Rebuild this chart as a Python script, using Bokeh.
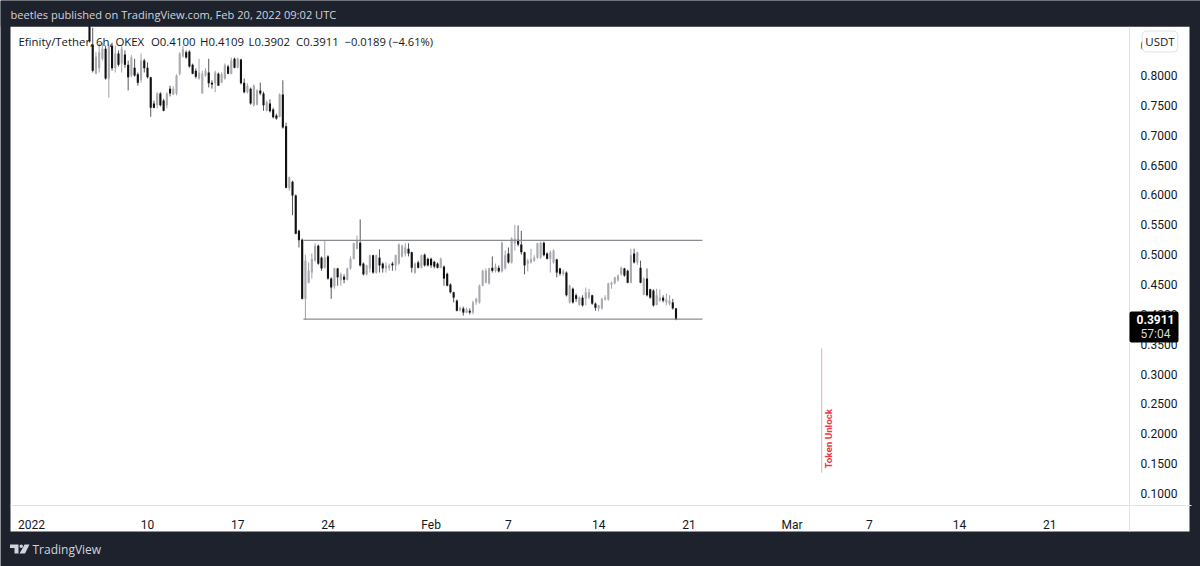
import numpy as np
from bokeh.embed import file_html
from bokeh.models import (BoxAnnotation, ColumnDataSource, FixedTicker, Label,
                          LinearAxis, PolyAnnotation, Range1d)
from bokeh.plotting import figure
from bokeh.resources import INLINE

# x is days since 1 Jan 2022; one bar every 6 hours, first bar on 5 Jan 12:00
first_bar_day = 4.5
bar_step_days = 0.25

opens = [.900,.852,.803,.812,.828,.845,.795,.850,.812,.837,.820,.835,.818,.800,.813,.802,.792,.825,.813,.797,.753,.750,.770,.758,.750,.778,.768,.770,.803,.832,.839,.840,.818,.808,.795,
 .770,.800,.805,.788,.787,.803,.788,.795,.815,.803,.828,.813,.827,.788,.772,.778,.750,.751,.775,.770,.741,.753,.743,.733,.731,.768,.715,.611,.622,.599,.540,.525,
 .426,.453,.470,.490,.515,.495,.478,.497,.460,.447,.477,.457,.463,.458,.477,.493,.510,.520,.485,.467,.477,.499,.470,.495,.485,.477,.478,.485,.482,.485,.497,.502,.510,.504,.470,.487,.478,.500,.493,.493,.488,.485,.478,.480,.468,.450,.437,
 .423,.406,.410,.403,.406,.403,.420,.420,.448,.453,.452,.478,.473,.478,.472,.477,.502,.487,.519,.525,.517,.504,.485,.487,.490,.495,.495,.520,.502,.493,.487,.492,.477,.468,.470,.420,.443,.432,.416,.428,.426,.428,.432,.418,.410,.410,.425,.425,.450,.452,.457,.467,.477,.473,.453,.502,.487,.478,.433,.460,.442,.440,.416,.423,.428,.420,.418,.420,.4100]
highs = [.920,.880,.839,.854,.855,.850,.852,.855,.850,.842,.849,.842,.825,.834,.828,.805,.837,.828,.822,.798,.758,.772,.772,.761,.772,.783,.782,.802,.839,.850,.842,.842,.820,.812,.828,
 .808,.812,.828,.792,.808,.805,.805,.820,.818,.830,.830,.830,.828,.795,.787,.780,.785,.777,.788,.773,.758,.760,.746,.736,.770,.792,.721,.631,.624,.601,.542,.527,
 .500,.487,.502,.519,.517,.497,.524,.499,.462,.478,.478,.470,.467,.478,.497,.520,.532,.559,.487,.483,.500,.500,.500,.509,.487,.487,.485,.488,.500,.519,.517,.519,.519,.505,.487,.490,.500,.502,.495,.495,.490,.487,.495,.482,.470,.452,.438,
 .425,.413,.413,.411,.410,.423,.428,.450,.475,.477,.478,.497,.485,.482,.522,.507,.512,.529,.550,.549,.540,.505,.493,.510,.499,.520,.522,.522,.504,.507,.509,.493,.478,.475,.472,.450,.445,.435,.430,.432,.445,.443,.433,.420,.416,.428,.432,.453,.455,.463,.467,.480,.478,.475,.510,.510,.505,.490,.462,.477,.443,.442,.443,.442,.432,.435,.432,.426,.4109]
lows = [.855,.805,.802,.805,.825,.793,.763,.808,.805,.815,.805,.813,.775,.797,.798,.783,.788,.805,.795,.731,.745,.745,.748,.740,.745,.765,.767,.767,.800,.830,.828,.813,.802,.795,.793,
 .770,.798,.780,.778,.772,.802,.787,.793,.802,.802,.812,.812,.785,.770,.770,.751,.748,.750,.767,.741,.740,.738,.728,.726,.730,.711,.611,.607,.566,.534,.512,.425,
 .391,.452,.460,.488,.483,.473,.477,.458,.426,.443,.448,.448,.452,.457,.475,.492,.509,.480,.465,.465,.470,.468,.468,.470,.470,.470,.473,.473,.473,.483,.495,.497,.497,.470,.468,.477,.477,.480,.480,.478,.477,.477,.477,.448,.447,.435,.420,
 .405,.405,.398,.402,.400,.400,.416,.418,.447,.452,.450,.470,.470,.470,.470,.475,.485,.485,.507,.514,.500,.467,.472,.485,.488,.493,.493,.497,.492,.470,.485,.462,.465,.465,.430,.418,.418,.421,.415,.413,.415,.426,.416,.406,.405,.408,.423,.423,.443,.450,.455,.465,.463,.452,.452,.485,.483,.452,.432,.430,.426,.413,.415,.421,.420,.415,.415,.408,.3902]
closes = [.857,.808,.832,.839,.845,.795,.849,.812,.837,.818,.845,.818,.797,.830,.800,.788,.825,.812,.797,.746,.746,.770,.750,.741,.770,.770,.778,.800,.837,.844,.830,.815,.803,.798,.805,
 .803,.808,.787,.785,.805,.783,.802,.817,.803,.825,.813,.828,.787,.772,.783,.753,.783,.775,.770,.750,.755,.740,.730,.728,.768,.713,.612,.629,.599,.535,.524,.426,
 .490,.473,.493,.515,.485,.477,.495,.460,.445,.477,.462,.467,.458,.477,.493,.519,.524,.482,.467,.482,.499,.470,.499,.482,.477,.482,.482,.482,.499,.517,.515,.512,.502,.478,.485,.478,.499,.482,.482,.482,.480,.478,.493,.460,.448,.437,.428,
 .406,.411,.403,.408,.403,.420,.426,.448,.473,.473,.477,.473,.480,.472,.520,.499,.487,.527,.527,.517,.504,.482,.490,.493,.495,.519,.520,.499,.493,.504,.507,.470,.468,.472,.432,.448,.420,.426,.428,.415,.437,.437,.418,.411,.415,.426,.428,.452,.453,.462,.465,.478,.465,.453,.499,.487,.504,.453,.460,.432,.428,.415,.432,.428,.423,.425,.423,.410,.3911]

price_ticks = [.10,.15,.20,.25,.30,.35,.40,.45,.50,.55,.60,.65,.70,.75,.80,.85]
date_ticks = [0, 9, 16, 23, 31, 37, 44, 51, 59, 65, 72, 79]
date_labels = ["2022", "10", "17", "24", "Feb", "7", "14", "21", "Mar", "7", "14", "21"]

range_top = 0.524
range_bottom = 0.392
range_days = [21.1, 52.05]
unlock_day = 61.3
unlock_prices = [0.343, 0.135]
unlock_label_price = 0.142

BG = "#1e222d"
UP = "#a9abb0"
UP_WICK = "#a0a2a8"
DOWN = "#111111"
DOWN_WICK = "#55575c"
TXT = "#131722"
FONT = "Roboto"

n = len(opens)
days = first_bar_day + bar_step_days * np.arange(n)
is_down = [c < o for o, c in zip(opens, closes)]
source = ColumnDataSource(dict(
    x=days, open=opens, high=highs, low=lows, close=closes,
    top=[max(o, c) for o, c in zip(opens, closes)],
    bottom=[min(o, c) for o, c in zip(opens, closes)],
    body=[DOWN if d else UP for d in is_down],
    wick=[DOWN_WICK if d else UP_WICK for d in is_down],
))

# The frame fills the whole page; the axes sit at fixed places inside it.
p = figure(width=1200, height=566, output_backend="svg", toolbar_location=None,
           x_range=Range1d(-2.404, 90.69), y_range=Range1d(-0.02218, 0.92559),
           x_axis_type=None, y_axis_type=None,
           min_border_left=0, min_border_right=0, min_border_top=0, min_border_bottom=0,
           background_fill_color=BG, border_fill_color=BG, outline_line_color=None)
p.grid.visible = False


def canvas_box(l, r, t, b, color, level, **kw):
    p.add_layout(BoxAnnotation(left=l, right=r, top=t, bottom=b,
                               left_units="canvas", right_units="canvas",
                               top_units="canvas", bottom_units="canvas",
                               fill_color=color, fill_alpha=1, line_color=None,
                               level=level, editable=False, **kw))


canvas_box(10, 1189, 26, 531, "#ffffff", "underlay")

yaxis = LinearAxis(ticker=FixedTicker(ticks=price_ticks), fixed_location=85.183, bounds=(0.0364, 0.8821))
yaxis.major_label_overrides = {t: f"{t:.4f}" for t in price_ticks}
xaxis = LinearAxis(ticker=FixedTicker(ticks=date_ticks), fixed_location=0.08, bounds=(-1.63, 90))
xaxis.major_label_overrides = dict(zip(date_ticks, date_labels))
for ax in (yaxis, xaxis):
    ax.major_tick_line_color = None
    ax.minor_tick_line_color = None
    ax.axis_line_color = "#e0e3eb"
    ax.major_label_text_color = TXT
    ax.major_label_text_font = FONT
    ax.major_label_text_font_size = "12px"
yaxis.major_label_standoff = 5
xaxis.major_label_standoff = 7
p.add_layout(yaxis, "right")
p.add_layout(xaxis, "below")

p.segment("x", "high", "x", "low", source=source, line_color="wick", line_width=1)
p.vbar("x", 0.165, "top", "bottom", source=source, fill_color="body", line_color=None)

p.line(range_days, [range_top, range_top], line_color="#8a8c94", line_width=1.2)
p.line(range_days, [range_bottom, range_bottom], line_color="#8a8c94", line_width=1.2)
p.line([unlock_day, unlock_day], unlock_prices, line_color="#f7a8b8", line_width=1)
p.add_layout(Label(x=unlock_day + 0.09, y=unlock_label_price, text="Token Unlock", angle=np.pi / 2,
                   text_color="#f23645", text_font=FONT, text_font_size="9.8px",
                   text_font_style="bold", text_baseline="top", text_align="left"))

# dark strip over the tops of the candles that leave the chart
canvas_box(0, 1200, 0, 26, BG, "annotation")


def canvas_label(x, y, text, color, size, font=FONT, style="normal", align="left", level="overlay", **kw):
    lab = Label(x=x, y=y, x_units="canvas", y_units="canvas", text=text, text_color=color,
                text_font=font, text_font_size=size, text_font_style=style,
                text_align=align, text_baseline="middle", level=level, **kw)
    p.add_layout(lab)


canvas_label(10, 13.5, "beetles published on TradingView.com, Feb 20, 2022 09:02 UTC", "#d1d4dc", "11.1px", font="Open Sans")
canvas_label(18, 40.5, "Efinity/Tether, 6h, OKEX", TXT, "11.4px", font="Open Sans")
canvas_label(150.5, 40.5, "O0.4100", TXT, "11.4px", font="Open Sans")
canvas_label(199.5, 40.5, "H0.4109", TXT, "11.4px", font="Open Sans")
canvas_label(248, 40.5, "L0.3902", TXT, "11.4px", font="Open Sans")
canvas_label(295.5, 40.5, "C0.3911", TXT, "11.4px", font="Open Sans")
canvas_label(344, 40.5, "\u22120.0189 (\u22124.61%)", TXT, "11.2px", font="Open Sans")

# USDT pill over the top tick
canvas_label(1159.5, 41, "USDT", TXT, "11.5px", font="Open Sans", align="center",
             background_fill_color="#ffffff", border_line_color="#e0e3eb",
             padding=3, border_radius=4)

# last price tag
canvas_box(1129, 1178, 311, 342, "#000000", "annotation", border_radius=2)
canvas_label(1155, 319, "0.3911", "#ffffff", "12px", style="bold", align="center")
canvas_label(1155, 333.5, "57:04", "#d8d8d8", "12px", align="center")

# TradingView logo
logo = "#d1d4dc"
for xs, ys in [
    ([9.5, 18, 18, 14, 14, 9.5], [544, 544, 553, 553, 547.5, 547.5]),
    ([24, 29, 24.5, 19, 22.5], [544, 544, 553, 553, 547]),
]:
    p.add_layout(PolyAnnotation(xs=xs, ys=ys, xs_units="canvas", ys_units="canvas",
                                fill_color=logo, fill_alpha=1, line_color=None,
                                level="overlay", editable=False))
canvas_box(19, 22.5, 544, 547.5, logo, "overlay", border_radius=2)
canvas_label(32, 549, "TradingView", logo, "12px", font="Open Sans")

html = file_html(p, INLINE)
open("out.html", "w").write(html)
